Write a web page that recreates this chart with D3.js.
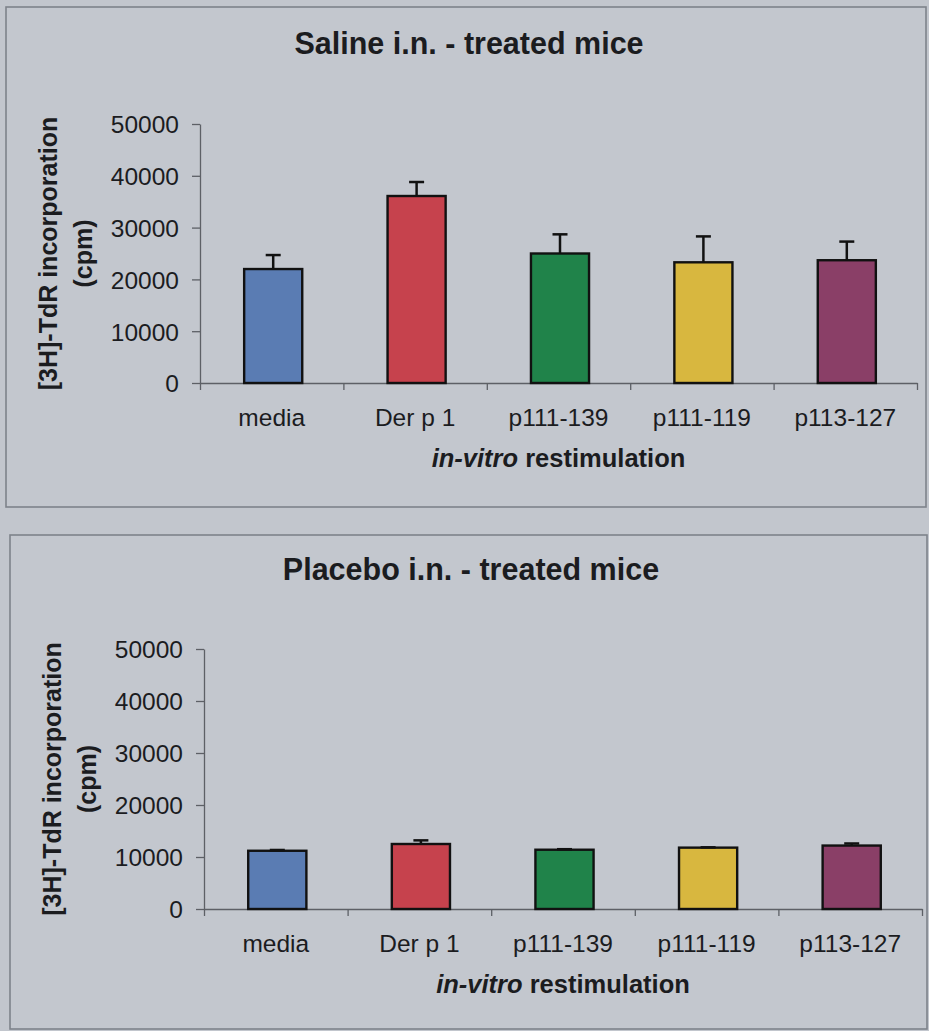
<!DOCTYPE html>
<html>
<head>
<meta charset="utf-8">
<script src="https://cdn.jsdelivr.net/npm/d3@7/dist/d3.min.js"></script>
<style>
  html, body { margin: 0; padding: 0; background: #c2c6cd; }
  svg { display: block; }
  text { font-family: "Liberation Sans", Arial, sans-serif; fill: #1b1c1f; }
</style>
</head>
<body>
<svg id="chart" width="929" height="1031"></svg>
<script>
// Restimulation conditions shown on the category axis
const categories = ["media", "Der p 1", "p111-139", "p111-119", "p113-127"];

// Saline i.n. group: mean cpm and upper error
const salineMeans  = [22000, 36100, 25000, 23300, 23700];
const salineErrors = [2700, 2700, 3700, 5000, 3600];

// Placebo i.n. group: mean cpm and upper error
const placeboMeans  = [11200, 12500, 11400, 11800, 12200];
const placeboErrors = [150, 700, 100, 60, 400];

// Value axis ticks
const yTicks = [0, 10000, 20000, 30000, 40000, 50000];

const panelTitles = ["Saline i.n. - treated mice", "Placebo i.n. - treated mice"];
const yTitleLines = ["[3H]-TdR incorporation", "(cpm)"];

const barColors = ["#5a7cb3", "#c6424d", "#20834a", "#d8b73f", "#8a3f67"];

const svg = d3.select("#chart");

// Panel frames and plot areas
const panels = [
  {
    frame: { x: 6, y: 7, w: 920, h: 500 },
    plot: { left: 200, right: 917, top: 124, bottom: 383 },
    titleY: 54, titleX: 469,
    yTitleX: [57, 92],
    means: salineMeans, errors: salineErrors
  },
  {
    frame: { x: 10, y: 535, w: 917, h: 494 },
    plot: { left: 204, right: 922, top: 649, bottom: 909 },
    titleY: 580, titleX: 471,
    yTitleX: [61, 96],
    means: placeboMeans, errors: placeboErrors
  }
];

panels.forEach((p, i) => {
  const g = svg.append("g");

  g.append("rect")
    .attr("x", p.frame.x).attr("y", p.frame.y)
    .attr("width", p.frame.w).attr("height", p.frame.h)
    .attr("fill", "#c3c7ce")
    .attr("stroke", "#7e838b").attr("stroke-width", 1.6);

  // Title
  g.append("text")
    .attr("x", p.titleX).attr("y", p.titleY)
    .attr("text-anchor", "middle")
    .style("font-size", "30.5px").style("font-weight", "bold")
    .text(panelTitles[i]);

  const y = d3.scaleLinear().domain([0, 50000]).range([p.plot.bottom, p.plot.top]);
  const xBand = d3.scaleBand().domain(categories).range([p.plot.left, p.plot.right]).padding(0);
  const xEdge = d3.scaleLinear().domain([0, categories.length]).range([p.plot.left, p.plot.right]);

  // Value axis
  const yAxis = g.append("g")
    .attr("transform", `translate(${p.plot.left},0)`)
    .call(d3.axisLeft(y).tickValues(yTicks).tickSize(8).tickSizeOuter(0).tickPadding(13).tickFormat(d3.format("d")));
  yAxis.select(".domain").attr("stroke", "#5d6066").attr("stroke-width", 1.3);
  yAxis.selectAll(".tick line").attr("stroke", "#5d6066").attr("stroke-width", 1.3);
  yAxis.selectAll(".tick text")
    .style("font-size", "24.5px").attr("fill", "#1b1c1f")
    .attr("dy", "0.36em");

  // Category boundary ticks
  const edgeAxis = g.append("g")
    .attr("transform", `translate(0,${p.plot.bottom})`)
    .call(d3.axisBottom(xEdge).tickValues(d3.range(categories.length + 1)).tickSize(7).tickSizeOuter(0).tickFormat(""));
  edgeAxis.select(".domain").attr("stroke", "#5d6066").attr("stroke-width", 1.3);
  edgeAxis.selectAll(".tick line").attr("stroke", "#5d6066").attr("stroke-width", 1.3);

  // Category labels
  const catAxis = g.append("g")
    .attr("transform", `translate(0,${p.plot.bottom})`)
    .call(d3.axisBottom(xBand).tickSize(0).tickPadding(0));
  catAxis.select(".domain").remove();
  catAxis.selectAll(".tick text")
    .attr("y", 43).attr("dy", 0)
    .style("font-size", "24.5px").attr("fill", "#1b1c1f");

  // Bars
  const bw = xBand.bandwidth() * 0.405;
  const barX = d => xBand(d) + xBand.bandwidth() / 2 - bw / 2 + 1.5;

  g.selectAll(".bar").data(categories).join("rect")
    .attr("class", "bar")
    .attr("x", d => barX(d))
    .attr("width", bw)
    .attr("y", (d, k) => y(p.means[k]))
    .attr("height", (d, k) => y(0) - y(p.means[k]))
    .attr("fill", (d, k) => barColors[k])
    .attr("stroke", "#111").attr("stroke-width", 2.4);

  // Upper error bars
  const capW = 15;
  const err = g.selectAll(".err").data(categories).join("g").attr("class", "err");
  err.append("line")
    .attr("x1", d => barX(d) + bw / 2).attr("x2", d => barX(d) + bw / 2)
    .attr("y1", (d, k) => y(p.means[k]))
    .attr("y2", (d, k) => y(p.means[k] + p.errors[k]))
    .attr("stroke", "#111").attr("stroke-width", 2.5);
  err.append("line")
    .attr("x1", d => barX(d) + bw / 2 - capW / 2).attr("x2", d => barX(d) + bw / 2 + capW / 2)
    .attr("y1", (d, k) => y(p.means[k] + p.errors[k]))
    .attr("y2", (d, k) => y(p.means[k] + p.errors[k]))
    .attr("stroke", "#111").attr("stroke-width", 2.5);

  // Axis titles
  const cy = (p.plot.top + p.plot.bottom) / 2;
  yTitleLines.forEach((line, j) => {
    g.append("text")
      .attr("transform", `translate(${p.yTitleX[j]},${cy}) rotate(-90)`)
      .attr("text-anchor", "middle")
      .style("font-size", "25px").style("font-weight", "bold")
      .text(line);
  });

  const xt = g.append("text")
    .attr("x", (p.plot.left + p.plot.right) / 2)
    .attr("y", p.plot.bottom + 84)
    .attr("text-anchor", "middle")
    .style("font-size", "25.5px").style("font-weight", "bold");
  xt.append("tspan").style("font-style", "italic").text("in-vitro");
  xt.append("tspan").text(" restimulation");
});
</script>
</body>
</html>
